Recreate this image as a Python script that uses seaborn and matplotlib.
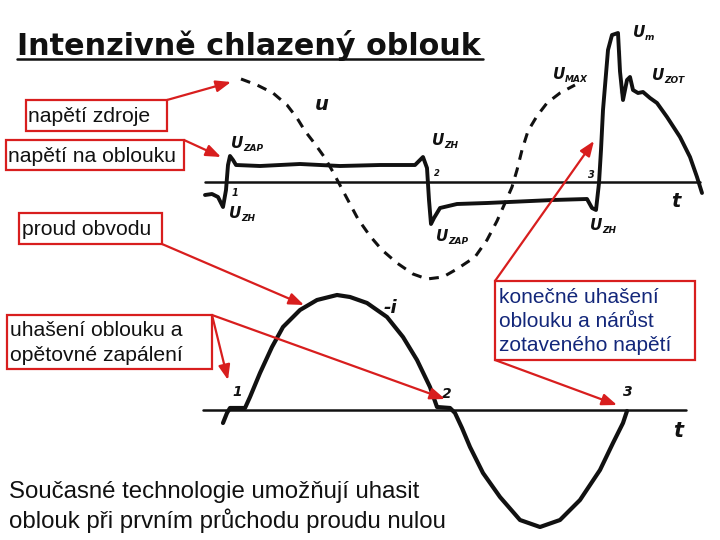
import numpy as np
import pandas as pd
import seaborn as sns
import matplotlib
matplotlib.use("Agg")
import matplotlib.pyplot as plt
from matplotlib.patches import Rectangle

# ---- data (pixel coordinates of the diagram) ----
# source voltage u (dashed)
u_x = [241, 257, 273, 287, 297, 305, 315, 325, 333, 342, 350, 358, 370, 382, 397, 413, 427,
       443, 457, 475, 487, 497, 505, 512, 517, 522, 528, 537, 547, 560, 575]
u_y = [79, 85, 93, 105, 118, 131, 144, 158, 172, 189, 204, 219, 236, 250, 263, 274, 279,
       277, 269, 257, 240, 221, 203, 187, 170, 150, 131, 116, 103, 93, 85]

# arc voltage (solid)
arc_x = [205, 212, 218, 223, 226, 228, 230, 233, 236, 260, 300, 340, 380, 415, 420, 423, 427,
         429, 431, 434, 440, 457, 487, 553, 587, 592, 596, 599, 601, 603, 608, 612, 618, 620,
         620, 623, 627, 630, 633, 638, 643, 650, 657, 667, 680, 690, 697, 702]
arc_y = [195, 194, 197, 207, 190, 165, 156, 160, 165, 166, 164, 166, 165, 165, 160, 157, 168,
         200, 224, 218, 208, 204, 203, 200, 199, 208, 210, 183, 150, 110, 50, 35, 33, 50,
         93, 100, 80, 77, 90, 93, 92, 98, 103, 117, 137, 157, 177, 193]

# circuit current -i (solid)
cur_x = [223, 227, 230, 245, 250, 260, 272, 283, 300, 317, 337, 350, 367, 387, 403, 417, 430,
         437, 450, 455, 462, 470, 483, 500, 520, 540, 560, 580, 600, 613, 623, 627]
cur_y = [423, 413, 408, 408, 397, 373, 347, 327, 310, 300, 295, 297, 303, 317, 337, 360, 387,
         407, 408, 413, 428, 447, 473, 497, 520, 527, 520, 500, 470, 443, 423, 411]

# axes (time lines)
axis_x_top = [205, 700]
axis_y_top = [182, 182]
axis_x_bot = [203, 686]
axis_y_bot = [410, 410]

title = "Intenzivně chlazený oblouk"
box_labels = ["napětí zdroje", "napětí na oblouku", "proud obvodu",
              "uhašení oblouku a\nopětovné zapálení"]
note_label = "konečné uhašení\noblouku a nárůst\nzotaveného napětí"
bottom_text = "Současné technologie umožňují uhasit\noblouk při prvním průchodu proudu nulou"

sns.set_style("white")
plt.rcParams['font.family'] = ['Liberation Sans', 'DejaVu Sans']

fig = plt.figure(figsize=(7.2, 5.4), dpi=100)
ax = fig.add_axes([0, 0, 1, 1])
ax.set_xlim(0, 720)
ax.set_ylim(540, 0)
ax.axis("off")

RED = "#d81e1e"
BLACK = "#111111"

# axes lines
sns.lineplot(x=axis_x_top, y=axis_y_top, ax=ax, color=BLACK, lw=1.8, sort=False)
sns.lineplot(x=axis_x_bot, y=axis_y_bot, ax=ax, color=BLACK, lw=1.8, sort=False)

# curves
sns.lineplot(x=u_x, y=u_y, ax=ax, color=BLACK, lw=2.2, sort=False,
             dashes=False).lines[-1].set_dashes([3.2, 2.6])
sns.lineplot(x=arc_x, y=arc_y, ax=ax, color=BLACK, lw=2.8, sort=False)
sns.lineplot(x=cur_x, y=cur_y, ax=ax, color=BLACK, lw=3.0, sort=False)
for ln in ax.lines:
    ln.set_solid_joinstyle("round")
    ln.set_solid_capstyle("round")

# title
ax.text(17, 55, title, fontsize=21.8, fontweight="bold", family=["DejaVu Sans"],
        color=BLACK, ha="left", va="baseline")
ax.plot([17, 483], [58.5, 58.5], color=BLACK, lw=1.8)

# handwritten-like labels
def hand(x, y, main, sub=None, size=11, subsize=6.5):
    ax.text(x, y, main, fontsize=size, fontweight="bold", fontstyle="italic",
            family=["DejaVu Sans"], color=BLACK, ha="left", va="baseline")
    if sub:
        ax.text(x + size * 1.1, y + 3, sub, fontsize=subsize, fontweight="bold",
                fontstyle="italic", family=["DejaVu Sans"], color=BLACK,
                ha="left", va="baseline")

hand(231, 148, "U", "ZAP")
hand(229, 218, "U", "ZH")
hand(232, 196, "1", size=7)
hand(432, 145, "U", "ZH")
hand(434, 176, "2", size=6)
hand(436, 241, "U", "ZAP")
hand(588, 178, "3", size=7)
hand(590, 230, "U", "ZH")
hand(633, 37, "U", "m")
hand(652, 80, "U", "ZOT")
hand(553, 79, "U", "MAX")
hand(671, 207, "t", size=14)
hand(315, 110, "u", size=14)
hand(384, 313, "-i", size=13)
hand(232, 396, "1", size=10)
hand(442, 398, "2", size=10)
hand(623, 396, "3", size=10)
hand(673, 437, "t", size=15)

# red boxes
def box(x0, y0, x1, y1, text, tx, color=BLACK, size=15.2, ls=1.0):
    ax.add_patch(Rectangle((x0, y0), x1 - x0, y1 - y0, fill=True, facecolor="white",
                           edgecolor=RED, lw=1.6, zorder=3))
    ax.text(tx, (y0 + y1) / 2 + 1, text, fontsize=size, color=color, ha="left",
            va="center", linespacing=ls, zorder=4)

box(26, 100, 167, 131, box_labels[0], 28)
box(6, 140, 184, 170, box_labels[1], 8)
box(19, 213, 162, 244, box_labels[2], 22)
box(7, 315, 212, 369, box_labels[3], 10, ls=1.35)
box(495, 281, 695, 360, note_label, 499, color="#13277a", size=15, ls=1.32)

# red arrows
def arrow(x0, y0, x1, y1):
    ax.annotate("", xy=(x1, y1), xytext=(x0, y0),
                arrowprops=dict(arrowstyle="-|>,head_length=0.9,head_width=0.35",
                                color=RED, lw=1.6, shrinkA=0, shrinkB=0), zorder=5)

arrow(167, 100, 231, 82)
arrow(184, 140, 221, 157)
arrow(162, 244, 304, 305)
arrow(212, 315, 228, 380)
arrow(212, 315, 445, 399)
arrow(495, 281, 594, 141)
arrow(495, 360, 617, 405)

ax.text(9, 507, bottom_text, fontsize=17.3, color=BLACK, ha="left", va="center",
        linespacing=1.3)

fig.savefig("out.png", dpi=100)
